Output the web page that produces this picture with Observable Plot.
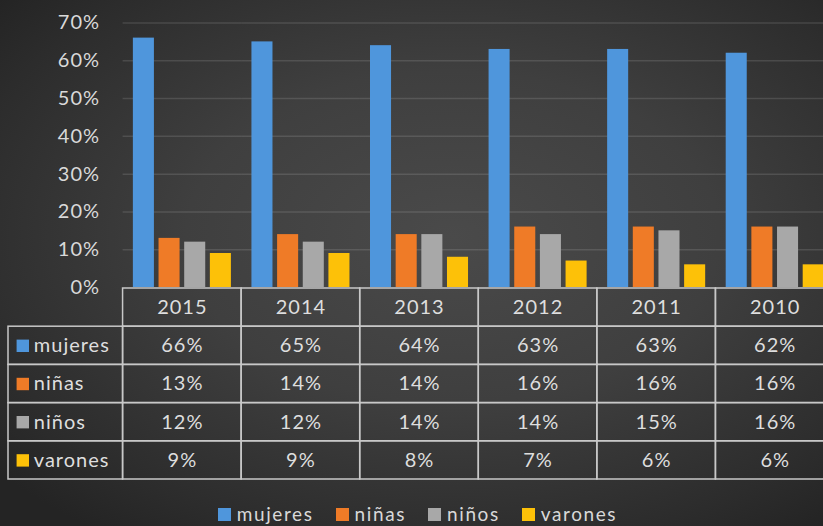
<!DOCTYPE html>
<html><head><meta charset="utf-8">
<script src="https://cdn.jsdelivr.net/npm/d3@7"></script>
<script src="https://cdn.jsdelivr.net/npm/@observablehq/plot@0.6"></script>
<style>
html,body{margin:0;padding:0;overflow:hidden;background:#2a2a2a;}
#wrap{position:relative;width:823px;height:526px;overflow:hidden;
  background:radial-gradient(ellipse 72% 70% at 55% 45%, #4a4a4a 0%, #3f3f3f 45%, #2c2c2c 85%, #242424 100%);
  font-family:Lato, sans-serif;}
#bars{position:absolute;left:0;top:0;}
#table{position:absolute;left:0;top:287px;}
#legend{position:absolute;left:0;top:502px;width:835px;height:24px;display:flex;justify-content:center;align-items:center;
  color:#d9d9d9;font-size:19px;line-height:22px;letter-spacing:1.6px;}
#legend .item{display:flex;align-items:center;margin:0 11px;}
#legend .sw{width:13px;height:13px;margin-right:6px;}
svg text{letter-spacing:1px;}
</style>
</head><body>
<div id="wrap"><div id="bars"></div><div id="table"></div><div id="legend"></div></div>
<script>
const years = ["2015","2014","2013","2012","2011","2010"];
const series = ["mujeres","niñas","niños","varones"];
const mujeres = [66,65,64,63,63,62];
const ninas = [13,14,14,16,16,16];
const ninos = [12,12,14,14,15,16];
const varones = [9,9,8,7,6,6];
const colors = ["#4f96dc","#ef7b27","#a8a8a8","#fdc108"];
const yTicks = [0,10,20,30,40,50,60,70];

const seriesValues = [mujeres, ninas, ninos, varones];
const rows = [];
series.forEach((s, i) => years.forEach((y, j) => rows.push({series: s, year: y, value: seriesValues[i][j]})));

const textStyle = {background:"transparent", color:"#d9d9d9", fontFamily:"Lato, sans-serif", fontSize:"20px", maxWidth:"none", overflow:"visible"};

const bars = Plot.plot({
  width: 834, height: 287,
  marginLeft: 122.6, marginRight: 0, marginTop: 22.5, marginBottom: 0,
  style: textStyle,
  fx: {domain: years, padding: 0, axis: null, round: false},
  x: {domain: series, axis: null, paddingInner: 0.18, paddingOuter: 0.4, round: false},
  y: {domain: [0, 70], ticks: yTicks, tickFormat: d => d + "%", tickSize: 0, tickPadding: 23, label: null},
  color: {domain: series, range: colors},
  marks: [
    Plot.gridY(yTicks.filter(t => t > 0), {stroke: "#ffffff", strokeOpacity: 0.12, strokeWidth: 1.5}),
    Plot.barY(rows, {fx: "year", x: "series", y: "value", fill: "series"})
  ]
});
document.getElementById("bars").append(bars);

const cols = ["", ...years];
const rowKeys = ["head", ...series];
const cells = [];
years.forEach(c => rowKeys.forEach(r => cells.push({col: c, row: r})));

const table = Plot.plot({
  width: 834, height: 193,
  marginLeft: 4, marginRight: 0, marginTop: 1, marginBottom: 1,
  style: textStyle,
  x: {domain: cols, padding: 0, axis: null, round: false},
  y: {domain: rowKeys, padding: 0, axis: null, round: false},
  color: {domain: series, range: colors},
  marks: [
    Plot.cell(cells, {x: "col", y: "row", fill: "none", stroke: "#c8c8c8", strokeWidth: 1.5, inset: 0}),
    Plot.cell(series, {x: () => "", y: d => d, fill: "none", stroke: "#c8c8c8", strokeWidth: 1.5, inset: 0, insetLeft: 4}),
    Plot.text(years, {x: d => d, y: () => "head", text: d => d, fill: "#dedede"}),
    Plot.text(rows, {x: "year", y: "series", text: d => d.value + "%", fill: "#dedede"}),
    Plot.dot(series, {x: () => "", y: d => d, symbol: "square", r: 7, fill: d => d, dx: -41}),
    Plot.text(series, {x: () => "", y: d => d, text: d => d, textAnchor: "start", dx: -30, fill: "#dedede"})
  ]
});
document.getElementById("table").append(table);

const legend = document.getElementById("legend");
series.forEach((s, i) => {
  const it = document.createElement("div"); it.className = "item";
  const sw = document.createElement("div"); sw.className = "sw"; sw.style.background = colors[i];
  const t = document.createElement("span"); t.textContent = s;
  it.append(sw, t); legend.append(it);
});
</script>
</body></html>
